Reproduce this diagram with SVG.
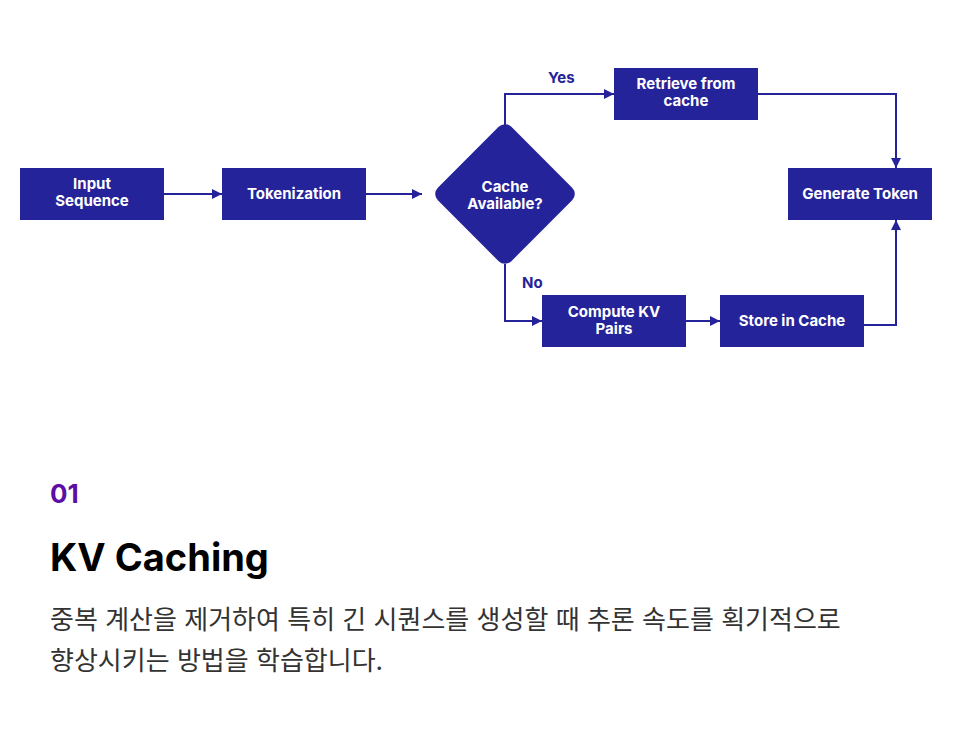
<svg xmlns="http://www.w3.org/2000/svg" width="960" height="734" viewBox="0 0 960 734">
<defs>
<marker id="ah" viewBox="0 0 10 10" refX="10" refY="5" markerWidth="10" markerHeight="10" markerUnits="userSpaceOnUse" orient="auto">
<path d="M0,0 L10,5 L0,10 z" fill="#25239a"/>
</marker>
<style>
.box{fill:#25239a}
.nt{font-family:Inter,"Liberation Sans",sans-serif;font-weight:700;font-size:15px;fill:#fff;text-anchor:middle}
.lbl{font-family:Inter,"Liberation Sans",sans-serif;font-weight:700;font-size:15px;fill:#25239a}
.edge{fill:none;stroke:#25239a;stroke-width:2;marker-end:url(#ah)}
</style>
</defs>
<rect width="960" height="734" fill="#fff"/>
<g id="connectors">
<path class="edge" d="M164,194 H222"/>
<path class="edge" d="M366,194 H422"/>
<path class="edge" d="M505,126 V94 H614"/>
<path class="edge" d="M758,94 H896 V168"/>
<path class="edge" d="M505,264 V321 H542"/>
<path class="edge" d="M686,321 H720"/>
<path class="edge" d="M864,325 H896 V220"/>
<text class="lbl" x="548" y="83">Yes</text>
<text class="lbl" x="522" y="288">No</text>
</g>
<g id="input-sequence">
<rect class="box" x="20" y="168" width="144" height="52"/>
<text class="nt" x="92" y="189">Input<tspan x="92" dy="17">Sequence</tspan></text>
</g>
<g id="tokenization">
<rect class="box" x="222" y="168" width="144" height="52"/>
<text class="nt" x="294" y="199">Tokenization</text>
</g>
<g id="cache-available">
<rect class="box" x="453" y="142" width="104" height="104" rx="9" transform="rotate(45 505 194)"/>
<text class="nt" x="505" y="192">Cache<tspan x="505" dy="17">Available?</tspan></text>
</g>
<g id="retrieve">
<rect class="box" x="614" y="68" width="144" height="52"/>
<text class="nt" x="686" y="89">Retrieve from<tspan x="686" dy="17">cache</tspan></text>
</g>
<g id="generate-token">
<rect class="box" x="788" y="168" width="144" height="52"/>
<text class="nt" x="860" y="199">Generate Token</text>
</g>
<g id="compute-kv">
<rect class="box" x="542" y="295" width="144" height="52"/>
<text class="nt" x="614" y="317">Compute KV<tspan x="614" dy="17">Pairs</tspan></text>
</g>
<g id="store-cache">
<rect class="box" x="720" y="295" width="144" height="52"/>
<text class="nt" x="792" y="326">Store in Cache</text>
</g>
<g id="caption">
<text x="50" y="503" font-family="Inter,'Liberation Sans',sans-serif" font-weight="700" font-size="26" fill="#5b0fa6">01</text>
<text x="50" y="571" font-family="Inter,'Liberation Sans',sans-serif" font-weight="700" font-size="38" fill="#000">KV Caching</text>
<text x="50" y="629" font-family="Inter,'Noto Sans CJK KR',sans-serif" font-size="26" fill="#333">중복 계산을 제거하여 특히 긴 시퀀스를 생성할 때 추론 속도를 획기적으로</text>
<text x="50" y="670" font-family="Inter,'Noto Sans CJK KR',sans-serif" font-size="26" fill="#333">향상시키는 방법을 학습합니다.</text>
</g>
</svg>
